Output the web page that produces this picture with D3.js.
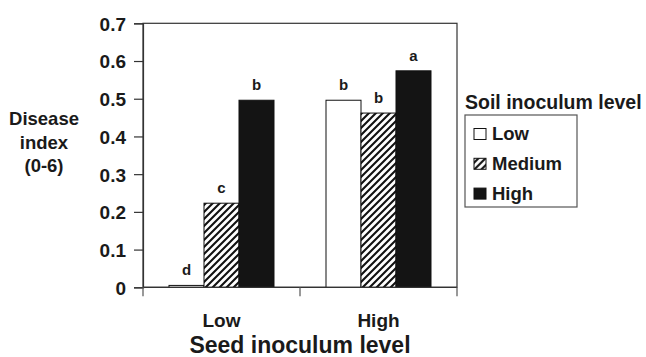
<!DOCTYPE html>
<html>
<head>
<meta charset="utf-8">
<script src="https://cdn.jsdelivr.net/npm/d3@7"></script>
<style>
  body { margin: 0; background: #fff; }
  text { font-family: "Liberation Sans", Arial, sans-serif; font-weight: bold; fill: #1a1a1a; }
</style>
</head>
<body>
<svg id="chart" width="646" height="357"></svg>
<script>
// seed inoculum groups, soil inoculum series
var groups = ["Low", "High"];
var series = ["Low", "Medium", "High"];
var lowSeedValues = [0.005, 0.223, 0.496];
var highSeedValues = [0.496, 0.462, 0.574];
var lowSeedLetters = ["d", "c", "b"];
var highSeedLetters = ["b", "b", "a"];
var yTicks = [0, 0.1, 0.2, 0.3, 0.4, 0.5, 0.6, 0.7];

var svg = d3.select("#chart");

var plot_left = 143, plot_right = 457, plot_top = 23.3, plot_bottom = 287.3;

var defs = svg.append("defs");
var pat = defs.append("pattern")
    .attr("id", "hatch")
    .attr("patternUnits", "userSpaceOnUse")
    .attr("width", 7).attr("height", 7);
pat.append("rect").attr("width", 7).attr("height", 7).attr("fill", "#fff");
pat.append("path")
    .attr("d", "M-1,8 L8,-1 M-4,4 L4,-4 M3,11 L11,3")
    .attr("stroke", "#111").attr("stroke-width", 2.1);

var fills = { "Low": "#fff", "Medium": "url(#hatch)", "High": "#141414" };

var x0 = d3.scaleBand().domain(groups).range([plot_left, plot_right]).padding(0);
var x1 = d3.scaleBand().domain(series).range([0, x0.bandwidth()]).paddingInner(0).paddingOuter(0.743);
var y = d3.scaleLinear().domain([0, 0.7]).range([plot_bottom, plot_top]);

var rows = [
    { group: "Low", values: lowSeedValues, letters: lowSeedLetters },
    { group: "High", values: highSeedValues, letters: highSeedLetters }
];

// frame
svg.append("rect")
    .attr("x", plot_left).attr("y", plot_top)
    .attr("width", plot_right - plot_left).attr("height", plot_bottom - plot_top)
    .attr("fill", "none").attr("stroke", "#333").attr("stroke-width", 1.2);

// bars
rows.forEach(function(r) {
    var g = svg.append("g").attr("transform", "translate(" + x0(r.group) + ",0)");
    g.selectAll("rect")
        .data(series)
        .enter().append("rect")
        .attr("x", function(d) { return x1(d); })
        .attr("y", function(d, i) { return y(r.values[i]); })
        .attr("width", x1.bandwidth())
        .attr("height", function(d, i) { return plot_bottom - y(r.values[i]); })
        .attr("fill", function(d) { return fills[d]; })
        .attr("stroke", "#111").attr("stroke-width", 1);
    g.selectAll("text")
        .data(series)
        .enter().append("text")
        .attr("x", function(d) { return x1(d) + x1.bandwidth() / 2; })
        .attr("y", function(d, i) { return y(r.values[i]) - 10; })
        .attr("text-anchor", "middle")
        .style("font-size", "15px")
        .text(function(d, i) { return r.letters[i]; });
});

// y axis
var yAxis = d3.axisLeft(y).tickValues(yTicks).tickSize(9).tickPadding(8)
    .tickFormat(function(d) { return d === 0 ? "0" : d3.format(".1f")(d); });
var ya = svg.append("g").attr("transform", "translate(" + plot_left + ",0)").call(yAxis);
ya.select(".domain").attr("stroke", "#333").attr("stroke-width", 1.2);
ya.selectAll(".tick line").attr("stroke", "#333").attr("stroke-width", 1.2);
ya.selectAll(".tick text").style("font-size", "19px").attr("fill", "#1a1a1a").attr("dy", "0.36em");

// x axis: ticks at band boundaries
var xa = svg.append("g");
xa.append("line").attr("x1", plot_left).attr("x2", plot_right).attr("y1", plot_bottom).attr("y2", plot_bottom)
    .attr("stroke", "#333").attr("stroke-width", 1.2);
var bounds = [x0(groups[0]), x0(groups[1]), x0(groups[1]) + x0.bandwidth()];
xa.selectAll(".xt").data(bounds).enter().append("line")
    .attr("x1", function(d) { return d; }).attr("x2", function(d) { return d; })
    .attr("y1", plot_bottom).attr("y2", plot_bottom + 9)
    .attr("stroke", "#555").attr("stroke-width", 1.2);
xa.selectAll(".xl").data(groups).enter().append("text")
    .attr("x", function(d) { return x0(d) + x0.bandwidth() / 2; })
    .attr("y", 327)
    .attr("text-anchor", "middle")
    .style("font-size", "19px")
    .text(function(d) { return d; });

svg.append("text")
    .attr("x", (plot_left + plot_right) / 2).attr("y", 353)
    .attr("text-anchor", "middle")
    .style("font-size", "23px")
    .text("Seed inoculum level");

// y title
var yTitle = ["Disease", "index", "(0-6)"];
svg.selectAll(".ytitle").data(yTitle).enter().append("text")
    .attr("x", 44)
    .attr("y", function(d, i) { return 125 + i * 23.5; })
    .attr("text-anchor", "middle")
    .style("font-size", "18.5px")
    .text(function(d) { return d; });

// legend
svg.append("text").attr("x", 465).attr("y", 108.5).style("font-size", "19.5px").text("Soil inoculum level");
svg.append("rect").attr("x", 465).attr("y", 115).attr("width", 112).attr("height", 92)
    .attr("fill", "#fff").attr("stroke", "#555").attr("stroke-width", 1.2);
var leg = svg.selectAll(".leg").data(series).enter().append("g")
    .attr("transform", function(d, i) { return "translate(474," + (140 + i * 29.8) + ")"; });
leg.append("rect").attr("x", 0).attr("y", -11.5).attr("width", 12).attr("height", 11)
    .attr("fill", function(d) { return fills[d]; })
    .attr("stroke", "#111").attr("stroke-width", 1);
leg.append("text").attr("x", 18).attr("y", 0).style("font-size", "18.5px").text(function(d) { return d; });
</script>
</body>
</html>
